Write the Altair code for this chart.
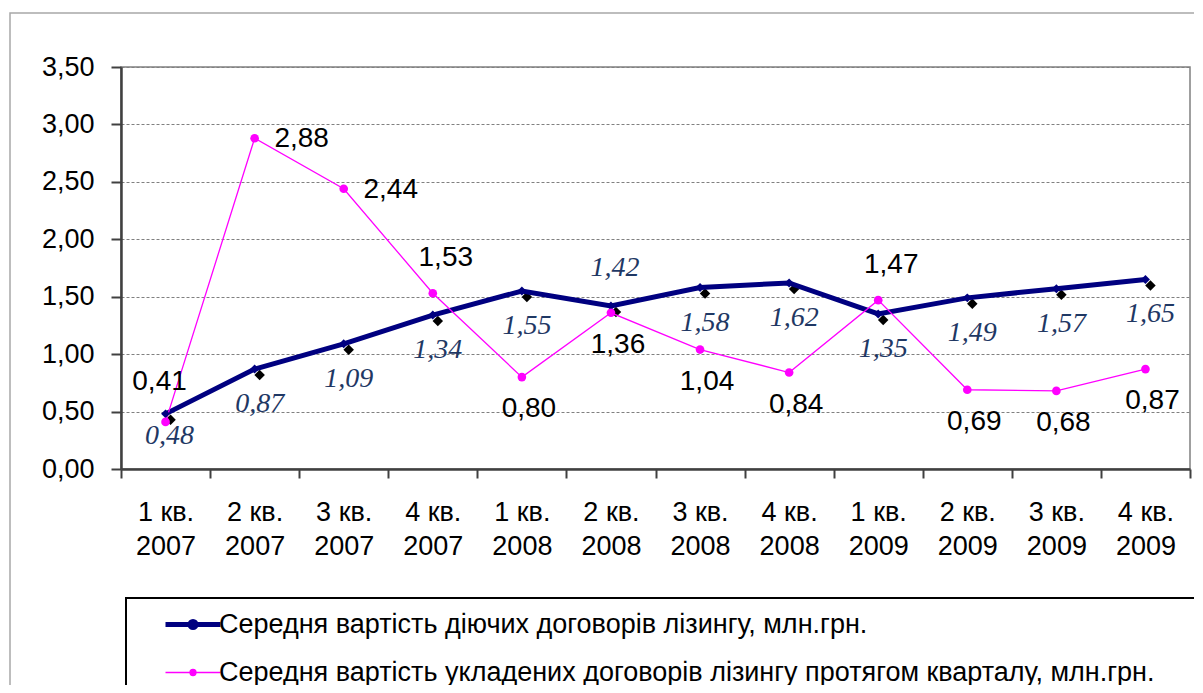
import altair as alt
import pandas as pd

quarters = ["1 кв. 2007", "2 кв. 2007", "3 кв. 2007", "4 кв. 2007",
            "1 кв. 2008", "2 кв. 2008", "3 кв. 2008", "4 кв. 2008",
            "1 кв. 2009", "2 кв. 2009", "3 кв. 2009", "4 кв. 2009"]
active_avg = [0.48, 0.87, 1.09, 1.34, 1.55, 1.42, 1.58, 1.62, 1.35, 1.49, 1.57, 1.65]
new_avg = [0.41, 2.88, 2.44, 1.53, 0.80, 1.36, 1.04, 0.84, 1.47, 0.69, 0.68, 0.87]
series_names = ["Середня вартість діючих договорів лізингу, млн.грн.",
                "Середня вартість укладених договорів лізингу протягом кварталу, млн.грн."]
y_ticks = [0, 0.5, 1.0, 1.5, 2.0, 2.5, 3.0, 3.5]

rows = []
for q, v in zip(quarters, active_avg):
    rows.append({"quarter": q, "value": v, "series": series_names[0],
                 "label": f"{v:.2f}".replace(".", ",")})
for q, v in zip(quarters, new_avg):
    rows.append({"quarter": q, "value": v, "series": series_names[1],
                 "label": f"{v:.2f}".replace(".", ",")})
df = pd.DataFrame(rows)

NAVY = "#000080"
MAGENTA = "#FF00FF"
LABEL_BLUE = "#1F3864"

x_enc = alt.X("quarter:N", sort=quarters,
              scale=alt.Scale(type="band", paddingInner=0, paddingOuter=0),
              axis=alt.Axis(title=None, labelAngle=0, tickBand="extent",
                            labelExpr="[slice(datum.label, 0, 5), slice(datum.label, 6)]",
                            labelFontSize=27, labelLineHeight=34, labelPadding=21,
                            tickSize=9, labelColor="#000"))
y_enc = alt.Y("value:Q", scale=alt.Scale(domain=[0, 3.5], nice=False),
              axis=alt.Axis(title=None, values=y_ticks, grid=True,
                            labelExpr="replace(format(datum.value, '.2f'), '.', ',')",
                            labelFontSize=27, labelPadding=17, tickSize=10,
                            labelColor="#000", gridDash=[3, 2], gridColor="#808080"))

base = alt.Chart(df)
s1 = base.transform_filter(alt.datum.series == series_names[0])
s2 = base.transform_filter(alt.datum.series == series_names[1])

frame = alt.Chart(pd.DataFrame({"k": [0]})).mark_rect(
    fill="#ffffff", fillOpacity=0, stroke="#a8a8a8", strokeWidth=1.5
).encode(x=alt.value(-111), x2=alt.value(1200), y=alt.value(-54), y2=alt.value(700))

legend_path = "M1.3,0H6.8M4.35,0A0.3,0.3 0 1 1 3.75,0A0.3,0.3 0 1 1 4.35,0Z"
leg = dict(title=None, orient="none", legendX=5, legendY=531, direction="vertical",
           symbolType=legend_path, symbolSize=400, symbolFillColor=MAGENTA,
           labelFontSize=27, labelLimit=1200, labelColor="#000", padding=13,
           rowPadding=20, strokeColor="#000", labelOffset=53,
           labelExpr="datum.label + '\u00a0\u2800'")

lines = base.mark_line().encode(
    x=x_enc, y=y_enc,
    color=alt.Color("series:N", scale=alt.Scale(domain=series_names, range=[NAVY, MAGENTA]),
                    legend=alt.Legend(**leg)),
    strokeWidth=alt.StrokeWidth("series:N", scale=alt.Scale(domain=series_names, range=[5, 1.3]),
                                legend=alt.Legend(**leg)),
    order=alt.Order("series:N", sort="ascending"),
)

shadow = s1.mark_point(shape="diamond", filled=True, color="#000", size=110, opacity=1,
                       xOffset=5, yOffset=6).encode(x=x_enc, y=y_enc)
nav_pts = s1.mark_point(shape="diamond", filled=True, color=NAVY, size=80, opacity=1).encode(x=x_enc, y=y_enc)
mag_pts = s2.mark_point(shape="circle", filled=True, color=MAGENTA, size=75, opacity=1).encode(x=x_enc, y=y_enc)

def lbl(src, keys, dx, dy, color, font, style):
    return src.transform_filter(alt.FieldOneOfPredicate(field="quarter", oneOf=keys)).mark_text(
        dx=dx, dy=dy, fontSize=28, font=font, fontStyle=style, color=color,
        align="center", baseline="middle").encode(x=x_enc, y=y_enc, text="label:N")

s1_below = [q for i, q in enumerate(quarters) if i not in (0, 5)]
s2_right = [quarters[1], quarters[2]]
s2_above = [quarters[3], quarters[8]]
s2_below = [q for i, q in enumerate(quarters) if i not in (0, 1, 2, 3, 8)]

labels = [
    lbl(s1, s1_below, 5, 35, LABEL_BLUE, "Liberation Serif", "italic"),
    lbl(s1, [quarters[0]], 4, 22, LABEL_BLUE, "Liberation Serif", "italic"),
    lbl(s1, [quarters[5]], 4, -38, LABEL_BLUE, "Liberation Serif", "italic"),
    lbl(s2, s2_right, 47, 1, "#000", "Liberation Sans", "normal"),
    lbl(s2, s2_above, 13, -35, "#000", "Liberation Sans", "normal"),
    lbl(s2, [quarters[0]], -6, -40, "#000", "Liberation Sans", "normal"),
    lbl(s2, s2_below, 7, 32, "#000", "Liberation Sans", "normal"),
]

chart = alt.layer(frame, shadow, lines, nav_pts, mag_pts, *labels).properties(
    width=1069, height=402,
    autosize=alt.AutoSizeParams(type="none"),
    padding={"left": 113, "top": 59, "right": 4, "bottom": 216},
    background="#ffffff",
).configure_view(stroke="#808080", strokeWidth=1.5).configure_axis(
    domainColor="#404040", domainWidth=2.5, tickColor="#404040", tickWidth=2,
    labelFont="Liberation Sans",
).configure_legend(strokeWidth=2, labelFont="Liberation Sans")

chart.save("out.html", embed_options={"renderer": "svg", "actions": False})
